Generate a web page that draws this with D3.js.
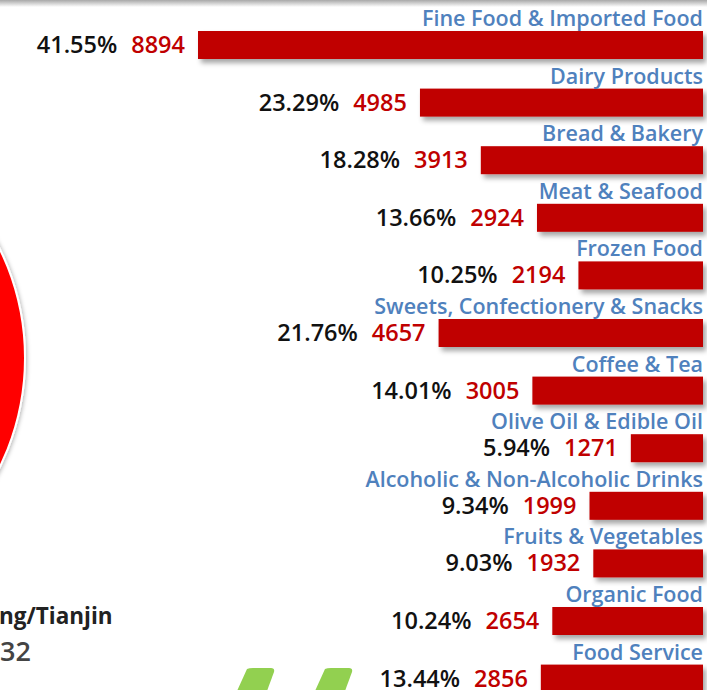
<!DOCTYPE html>
<html>
<head>
<meta charset="utf-8">
<script src="https://cdn.jsdelivr.net/npm/d3@7"></script>
<style>
  html, body { margin: 0; padding: 0; background: #fff; }
  svg { display: block; }
</style>
</head>
<body>
<script>
const categories = [
  "Fine Food & Imported Food",
  "Dairy Products",
  "Bread & Bakery",
  "Meat & Seafood",
  "Frozen Food",
  "Sweets, Confectionery & Snacks",
  "Coffee & Tea",
  "Olive Oil & Edible Oil",
  "Alcoholic & Non-Alcoholic Drinks",
  "Fruits & Vegetables",
  "Organic Food",
  "Food Service"
];
const counts = [8894, 4985, 3913, 2924, 2194, 4657, 3005, 1271, 1999, 1932, 2654, 2856];
const percents = ["41.55%", "23.29%", "18.28%", "13.66%", "10.25%", "21.76%", "14.01%", "5.94%", "9.34%", "9.03%", "10.24%", "13.44%"];
const cityLabel = "Beijing/Tianjin";
const cityValue = "32";

const W = 707, H = 690;
const svg = d3.select("body").append("svg").attr("width", W).attr("height", H);
const defs = svg.append("defs");

const sh = defs.append("filter").attr("id", "shadow")
  .attr("x", "-10%").attr("y", "-30%").attr("width", "130%").attr("height", "180%");
sh.append("feDropShadow").attr("dx", 3).attr("dy", 4).attr("stdDeviation", 2.5)
  .attr("flood-color", "#000").attr("flood-opacity", 0.35);

const csh = defs.append("filter").attr("id", "cshadow")
  .attr("x", "-20%").attr("y", "-20%").attr("width", "140%").attr("height", "140%");
csh.append("feDropShadow").attr("dx", 1).attr("dy", 1).attr("stdDeviation", 2)
  .attr("flood-color", "#000").attr("flood-opacity", 0.3);

// top shadow band
const tg = defs.append("linearGradient").attr("id", "topg").attr("x1", 0).attr("y1", 0).attr("x2", 0).attr("y2", 1);
tg.append("stop").attr("offset", "0%").attr("stop-color", "#a8a8a8");
tg.append("stop").attr("offset", "100%").attr("stop-color", "#ffffff");
svg.append("rect").attr("x", 0).attr("y", 0).attr("width", W).attr("height", 7).attr("fill", "url(#topg)");

// big red circle on left
svg.append("circle").attr("cx", -223).attr("cy", 358).attr("r", 248)
  .attr("fill", "#ff0000").attr("stroke", "#fff").attr("stroke-width", 2)
  .attr("filter", "url(#cshadow)");

// green decorative shapes
const greens = [237, 315];
svg.selectAll("path.g").data(greens).join("path").attr("class", "g")
  .attr("d", x => `M${x},691 L${x + 10},669 Q${x + 12},668 ${x + 16},668 L${x + 34},668 Q${x + 38},668 ${x + 37},672 L${x + 30},691 Z`)
  .attr("fill", "#92d050");

// city labels (cut at left edge like the reference)
const city = svg.append("text").attr("x", 0).attr("y", 624)
  .attr("font-family", "Open Sans, sans-serif").attr("font-weight", 700)
  .attr("font-size", 22.5).attr("fill", "#222").text(cityLabel);
const pre = city.node().getSubStringLength(0, cityLabel.indexOf("ng/"));
city.attr("x", -pre - 1);
svg.append("text").attr("x", 31).attr("y", 661).attr("text-anchor", "end")
  .attr("font-family", "Open Sans, sans-serif").attr("font-weight", 600)
  .attr("font-size", 27).attr("fill", "#444").text(cityValue);

// bars
const right = 703;
const x = d3.scaleLinear().domain([0, d3.max(counts)]).range([0, 505]);
const y = d3.scaleBand().domain(d3.range(categories.length)).range([31, 31 + 57.6 * 12]).paddingInner(0).paddingOuter(0);
const bh = 28;

const rows = svg.selectAll("g.row").data(categories).join("g").attr("class", "row");

rows.append("rect")
  .attr("x", (d, i) => right - x(counts[i]))
  .attr("y", (d, i) => y(i))
  .attr("width", (d, i) => x(counts[i]))
  .attr("height", bh)
  .attr("fill", "#c00000")
  .attr("filter", "url(#shadow)");

rows.append("text")
  .attr("x", right)
  .attr("y", (d, i) => y(i) - 5)
  .attr("text-anchor", "end")
  .attr("font-family", "Open Sans, sans-serif").attr("font-weight", 600)
  .attr("font-size", 21.5).attr("fill", "#4f81bd")
  .text(d => d);

const nums = rows.append("text")
  .attr("x", (d, i) => right - x(counts[i]) - 13)
  .attr("y", (d, i) => y(i) + bh / 2 + 8)
  .attr("text-anchor", "end")
  .attr("font-family", "Open Sans, sans-serif").attr("font-weight", 600)
  .attr("font-size", 23.5).attr("fill", "#c00000")
  .text((d, i) => counts[i]);

nums.each(function (d, i) {
  const wNum = this.getComputedTextLength();
  d3.select(this.parentNode).append("text")
    .attr("x", right - x(counts[i]) - 13 - wNum - 14)
    .attr("y", y(i) + bh / 2 + 8)
    .attr("text-anchor", "end")
    .attr("font-family", "Open Sans, sans-serif").attr("font-weight", 600)
    .attr("font-size", 23.5).attr("fill", "#111")
    .text(percents[i]);
});
</script>
</body>
</html>
